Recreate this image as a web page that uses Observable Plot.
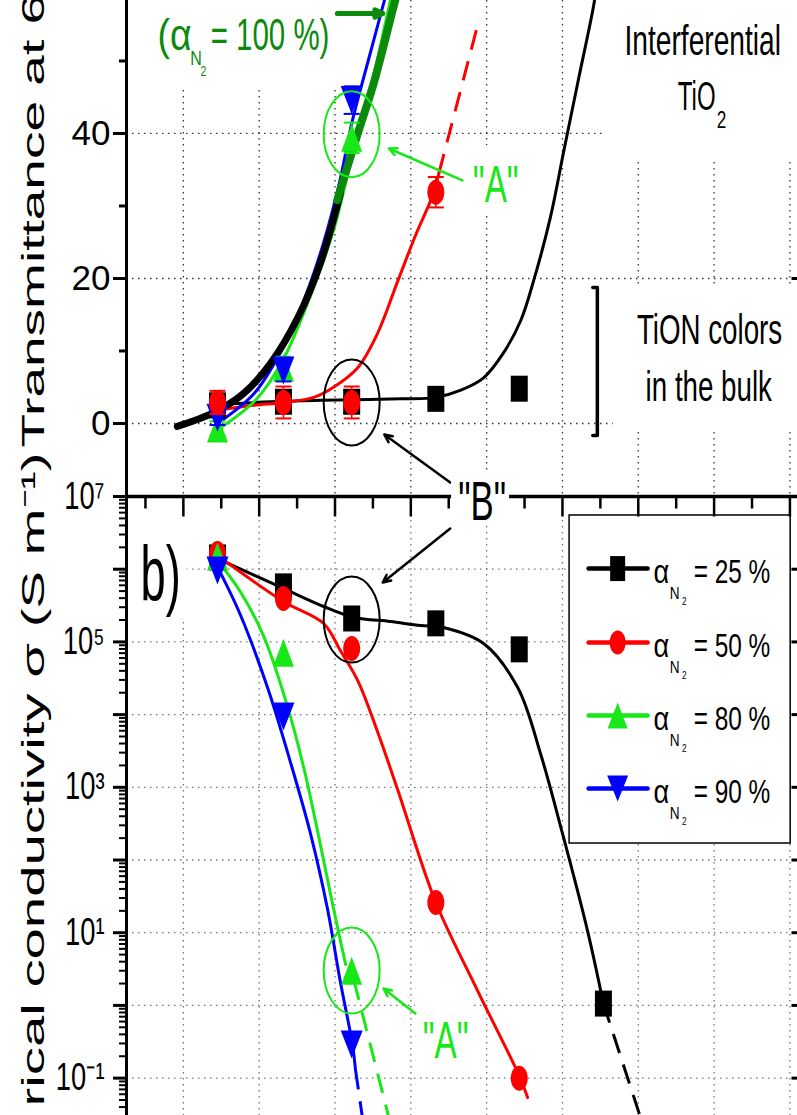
<!DOCTYPE html>
<html><head><meta charset="utf-8">
<script src="https://cdn.jsdelivr.net/npm/d3@7"></script>
<script src="https://cdn.jsdelivr.net/npm/@observablehq/plot@0.6"></script>
<style>
html,body{margin:0;padding:0;background:#fff;overflow:hidden}
#chart{position:relative;width:797px;height:1115px;overflow:hidden;background:#fff}
#chart svg{position:absolute;left:0}
</style></head>
<body><div id="chart"></div>
<script>
// ---------------- DATA ----------------
const xSamples = [1.45, 2.32, 3.22, 4.33, 5.43, 6.54];

// (a) transmittance (%)
const transBlack = [2.5, 3.0, 3.0, 3.4, 4.8];
const transBlackErr = [1.0, 1.5, 1.5, 1.0, 0.6];
const transRed = [2.9, 2.9, 2.9, 31.9];
const transRedErr = [1.6, 2.2, 2.2, 2.1];
const transGreen = [-0.7, 7.7, 39.4];
const transGreenErr = [1.0, 1.5, 2.1];
const transBlue = [0.8, 7.3, 44.6];
const transBlueErr = [1.0, 1.5, 1.9];

// (b) electrical conductivity (S/m)
const condBlack = [1.45e6, 5.8e5, 2.1e5, 1.8e5, 7.9e4, 1.06];
const condRed = [1.64e6, 3.95e5, 8.1e4, 26, 0.1];
const condGreen = [1.5e6, 7.1e4, 3.0];
const condBlue = [9.6e5, 9.4e3, 0.29];

// guide curves [x, y]
const fitTrans100Black = [[0.92,-0.4],[1.40,1.5],[1.79,4.1],[2.15,8.3],[2.51,14.6],[2.81,22.2],[3.07,31.7]];
const fitTrans100Green = [[3.03,30.8],[3.30,40.0],[3.51,46.9],[3.76,57.0],[3.81,59.0]];
const fitTransBlue = [[1.45,0.0],[1.93,4.1],[2.28,9.8],[2.59,17.0],[2.84,24.6],[3.05,32.8],[3.23,41.8],[3.44,50.1],[3.65,58.3],[3.70,60.3]];
const fitTransGreen = [[1.49,-0.6],[1.95,3.2],[2.31,8.7],[2.68,17.7],[2.98,26.6],[3.18,34.9],[3.31,40.0],[3.51,48.0],[3.73,58.3],[3.78,60.3]];
const fitTransRed = [[1.45,1.8],[1.93,2.5],[2.32,2.9],[2.72,3.6],[2.98,5.0],[3.30,7.7],[3.56,12.4],[3.83,19.7],[4.06,25.9],[4.29,31.5],[4.37,34.5]];
const fitTransRedDash = [[4.37,34.5],[4.87,54.5]];
const fitTransBlack = [[1.45,2.6],[2.15,3.0],[2.81,3.2],[3.87,3.4],[4.33,3.6],[4.66,4.6],[4.96,6.3],[5.22,9.7],[5.45,14.2],[5.62,19.7],[5.84,28.4],[6.02,37.7],[6.20,46.9],[6.40,57.0],[6.44,59.5]];

const fitCondBlack = [[1.45,1.40e6],[2.32,5.43e5],[2.85,3.07e5],[3.25,2.17e5],[3.73,1.91e5],[4.13,1.68e5],[4.43,1.58e5],[4.96,9.5e4],[5.41,2.36e4],[5.71,2.92e3],[6.00,232],[6.33,10.7],[6.54,1.06]];
const fitCondBlackDash = [[6.54,1.06],[7.03,0.0287]];
const fitCondRed = [[1.45,1.54e6],[2.32,3.6e5],[2.85,1.79e5],[3.07,7.62e4],[3.30,2.94e4],[3.56,5.86e3],[3.83,904],[4.33,26],[4.88,1.6],[5.44,0.102],[5.54,0.054]];
const fitCondGreen = [[1.42,1.45e6],[1.75,4.93e5],[2.06,1.19e5],[2.37,1.33e4],[2.59,1.82e3],[2.81,158],[2.98,21.5],[3.14,3.66]];
const fitCondGreenDash = [[3.25,2.2],[3.71,0.0287]];
const fitCondBlue = [[1.42,1.24e6],[1.75,2.38e5],[2.11,2.36e4],[2.41,2.26e3],[2.68,224],[2.90,21.5],[3.07,2.13],[3.23,0.29],[3.27,0.131]];
const fitCondBlueDash = [[3.27,0.131],[3.36,0.0296]];

// ticks
const xMajorTicks = [1,2,3,4,5,6,7,8,9];
const xMinorTicks = [0.5,1.5,2.5,3.5,4.5,5.5,6.5,7.5,8.5];
const transTicks = [0, 20, 40];
const transMinorTicks = [10, 30, 50];
const condTicks = [1e7, 1e5, 1e3, 1e1, 1e-1];
const condTickLabels = ["10⁷", "10⁵", "10³", "10¹", "10⁻¹"];
const condDecades = [1e6, 1e4, 1e2, 1e0];
const condGrid = [1e6, 1e5, 1e4, 1e3, 1e2, 1e1, 1e0, 1e-1];
const condMinorTicks = [];
for (let e = -2; e <= 6; e++) for (let m = 2; m <= 9; m++) { const v = m * 10 ** e; if (v > 0.0306 && v < 1e7) condMinorTicks.push(v); }

// legend
const legendLabels = ["= 25 %", "= 50 %", "= 80 %", "= 90 %"];
const yLabelTop = "Transmittance at 6";
const yLabelBottom = "rical conductivity σ (S m⁻¹)";

// ---------------- STYLE ----------------
const FONT = "'Liberation Sans', Arial, Helvetica, sans-serif";
const DARK = "#0b8a0b", GREEN = "#18e818", RED = "#ff0000", BLUE = "#0000ff", BLACK = "#000000";
const squeeze = new Map([
  ["(α",0.85],["N",0.8],["2",0.75],["= 100 %)",0.67],["Interferential",0.67],["TiO",0.6],
  ["TiON colors",0.66],["in the bulk",0.66],['"A"',0.64],['"B"',0.62],["b)",0.58],["α",0.8],
  ["= 25 %",0.74],["= 50 %",0.74],["= 80 %",0.74],["= 90 %",0.74],
  ["10⁷",0.72],["10⁵",0.72],["10³",0.72],["10¹",0.72],["10⁻¹",0.72],
  [yLabelTop,1.72],[yLabelBottom,1.76]
]);

// symbols
const rectSym = (w, h) => ({draw(c){c.moveTo(-w/2,-h/2);c.lineTo(w/2,-h/2);c.lineTo(w/2,h/2);c.lineTo(-w/2,h/2);c.closePath();}});
const ellSym = (rx, ry) => ({draw(c){const k=0.5523,kx=rx*k,ky=ry*k;c.moveTo(rx,0);c.bezierCurveTo(rx,ky,kx,ry,0,ry);c.bezierCurveTo(-kx,ry,-rx,ky,-rx,0);c.bezierCurveTo(-rx,-ky,-kx,-ry,0,-ry);c.bezierCurveTo(kx,-ry,rx,-ky,rx,0);c.closePath();}});
const triUp = (w, h) => ({draw(c){c.moveTo(0,-h/2);c.lineTo(w/2,h/2);c.lineTo(-w/2,h/2);c.closePath();}});
const triDown = (w, h) => ({draw(c){c.moveTo(0,h/2);c.lineTo(w/2,-h/2);c.lineTo(-w/2,-h/2);c.closePath();}});
const hSeg = (a, b) => ({draw(c){c.moveTo(a,0);c.lineTo(b,0);}});
const vSeg = (a, b) => ({draw(c){c.moveTo(0,a);c.lineTo(0,b);}});
const SQ = rectSym(17,26), CI = ellSym(8.5,12.5), TU = triUp(21,28), TD = triDown(22,28);

const pts = a => a.map(([x, y]) => ({x, y}));
const rows = (ys, es) => ys.map((y, i) => ({x: xSamples[i], y, e: es ? es[i] : 0}));

function markers(data, color, sym, withErr) {
  const out = [];
  if (withErr) {
    out.push(Plot.ruleX(data, {x:"x", y1:d=>d.y-d.e, y2:d=>d.y+d.e, stroke:color, strokeWidth:1.6}));
    out.push(Plot.dot(data, {x:"x", y:d=>d.y+d.e, symbol:hSeg(-8,8), fill:"none", stroke:color, strokeWidth:2}));
    out.push(Plot.dot(data, {x:"x", y:d=>d.y-d.e, symbol:hSeg(-8,8), fill:"none", stroke:color, strokeWidth:2}));
  }
  out.push(Plot.dot(data, {x:"x", y:"y", symbol:sym, fill:color, stroke:"none"}));
  return out;
}
const curve = (a, color, w, dash) => Plot.line(pts(a), {x:"x", y:"y", stroke:color, strokeWidth:w,
  curve: dash ? "linear" : "catmull-rom", strokeDasharray: dash || null, strokeLinecap: dash ? "butt" : "round"});
const texts = (data, fill, anchor) => Plot.text(data, {x:"x", y:"y", text:"t", fontSize:d=>d.fs,
  fill, textAnchor:anchor, lineAnchor:"bottom", fontFamily:FONT});

// annotation placements (data coordinates)
const topBoxes = [
  {x1:0.25, x2:3.1, y1:46.2, y2:58.4},
  {x1:6.54, x2:9.1, y1:36.3, y2:58.4},
  {x1:6.67, x2:9.1, y1:-1.24, y2:18.76},
  {x1:4.76, x2:5.47, y1:28.7, y2:38.3}
];
const bracket = [[6.40,18.76],[6.46,18.76],[6.46,-1.66],[6.40,-1.66]];
const topEllipses = [{x:3.22, y:39.9, c:GREEN}, {x:3.22, y:2.9, c:BLACK}];
const topArrows = [
  {x1:3.03, y1:56.55, x2:3.63, y2:56.55, c:DARK, w:5},
  {x1:4.68, y1:33.52, x2:3.71, y2:37.93, c:GREEN, w:2.5},
  {x1:4.52, y1:-8.14, x2:3.65, y2:-1.52, c:BLACK, w:2.5}
];
const topDarkText = [
  {x:0.66, y:51.45, t:"(α", fs:44},
  {x:1.09, y:49.38, t:"N", fs:20},
  {x:1.225, y:47.86, t:"2", fs:14},
  {x:1.36, y:51.45, t:"= 100 %)", fs:44}
];
const topBlackMid = [
  {x:7.85, y:50.76, t:"Interferential", fs:42},
  {x:7.94, y:11.03, t:"TiON colors", fs:42},
  {x:7.93, y:3.17, t:"in the bulk", fs:42}
];
const topBlackEnd = [{x:8.02, y:43.17, t:"TiO", fs:40}];
const topBlackStart = [{x:8.034, y:40.69, t:"2", fs:23}];
const topGreenMid = [{x:5.12, y:30.48, t:'"A"', fs:52}];

const botBoxes = [
  {x1:0.25, x2:1.05, y1:1.97e5, y2:1e7},
  {x1:4.06, x2:4.815, y1:0.158, y2:1.17}
];
const bBox = [{x1:4.538, x2:5.303, y1:4.12e6, y2:2.28e7}];
const botEllipses = [{x:3.22, y:2.03e5, c:BLACK}, {x:3.22, y:3.02, c:GREEN}];
const botArrows = [
  {x1:4.52, y1:3.63e6, x2:3.63, y2:6.56e5, c:BLACK, w:2.5},
  {x1:4.06, y1:0.775, x2:3.64, y2:1.71, c:GREEN, w:2.5}
];
const legendBox = [{x1:6.094, x2:9.01, y1:168.7, y2:5.48e6}];
const legendY = [1.02e6, 9.8e4, 9.7e3, 9.6e2];
const legendColors = [BLACK, RED, GREEN, BLUE];
const legendSyms = [rectSym(15,25), ellSym(8,12), triUp(20,26), triDown(21,26)];

// ---------------- TOP PANEL ----------------
const gridT = {stroke:"#111", strokeOpacity:0.85, strokeWidth:1.3, strokeDasharray:"1.5,4.5"};
const topSvg = Plot.plot({
  width:797, height:496, marginLeft:126, marginRight:0, marginTop:0, marginBottom:0,
  style:{fontFamily:FONT, background:"white"},
  x:{domain:[0.25, 9.1], axis:null},
  y:{domain:[-10.07, 58.34], axis:null},
  color:{type:"identity"},
  marks:[
    Plot.ruleX(xMajorTicks, gridT),
    Plot.ruleY(transTicks, gridT),
    Plot.rect(topBoxes, {x1:"x1", x2:"x2", y1:"y1", y2:"y2", fill:"white"}),
    Plot.line(pts(bracket), {x:"x", y:"y", stroke:BLACK, strokeWidth:3.5, strokeLinecap:"round", strokeLinejoin:"round"}),
    curve(fitTransBlack, BLACK, 3),
    curve(fitTransRed, RED, 3),
    curve(fitTransRedDash, RED, 3, "20,12"),
    curve(fitTransGreen, GREEN, 3),
    curve(fitTransBlue, BLUE, 3),
    curve(fitTrans100Black, BLACK, 7),
    curve(fitTrans100Green, DARK, 8),
    ...markers(rows(transBlack, transBlackErr), BLACK, SQ, true),
    ...markers(rows(transGreen, transGreenErr), GREEN, TU, true),
    ...markers(rows(transBlue, transBlueErr), BLUE, TD, true),
    ...markers(rows(transRed, transRedErr), RED, CI, true),
    Plot.dot(topEllipses, {x:"x", y:"y", symbol:ellSym(28,43), fill:"none", stroke:"c", strokeWidth:2}),
    Plot.arrow(topArrows, {x1:"x1", y1:"y1", x2:"x2", y2:"y2", stroke:"c", strokeWidth:"w", headLength:13, headAngle:50}),
    texts(topDarkText, DARK, "start"),
    texts(topBlackMid, BLACK, "middle"),
    texts(topBlackEnd, BLACK, "end"),
    texts(topBlackStart, BLACK, "start"),
    texts(topGreenMid, GREEN, "middle"),
    Plot.ruleX([0.25], {stroke:BLACK, strokeWidth:3}),
    Plot.axisY(transTicks, {anchor:"left", tickSize:13, tickPadding:3, strokeWidth:3, fontSize:35, label:null, tickFormat:d=>String(d)}),
    Plot.axisY(transMinorTicks, {anchor:"left", tickSize:7, strokeWidth:3, fill:"none", label:null}),
    Plot.dot([20], {x:()=>9.1, y:d=>d, symbol:hSeg(-6,0), fill:"none", stroke:BLACK, strokeWidth:3}),
    Plot.text([yLabelTop], {text:d=>d, frameAnchor:"left", dx:-83, dy:199, rotate:-90, textAnchor:"start", lineAnchor:"bottom", fontSize:32, fontFamily:FONT})
  ]
});

// ---------------- BOTTOM PANEL ----------------
const gridB = {stroke:"#666", strokeOpacity:0.9, strokeWidth:1.3, strokeDasharray:"1.5,4.5"};
const legendRows = legendY.map((y, i) => ({y, c:legendColors[i], t:legendLabels[i]}));
const bottomSvg = Plot.plot({
  width:797, height:619, marginLeft:126, marginRight:0, marginTop:0, marginBottom:0,
  style:{fontFamily:FONT, background:"transparent", overflow:"visible"},
  x:{domain:[0.25, 9.1], axis:null},
  y:{type:"log", domain:[10 ** -1.514, 1e7], axis:null},
  color:{type:"identity"},
  marks:[
    Plot.ruleX(xMajorTicks, gridB),
    Plot.ruleY(condGrid, gridB),
    Plot.rect(botBoxes, {x1:"x1", x2:"x2", y1:"y1", y2:"y2", fill:"white"}),
    curve(fitCondBlack, BLACK, 3),
    curve(fitCondBlackDash, BLACK, 3, "20,12"),
    curve(fitCondRed, RED, 3),
    curve(fitCondGreen, GREEN, 3),
    curve(fitCondGreenDash, GREEN, 3, "20,12"),
    curve(fitCondBlue, BLUE, 3),
    curve(fitCondBlueDash, BLUE, 3, "20,12"),
    ...markers(rows(condBlack), BLACK, SQ, false),
    ...markers(rows(condRed), RED, CI, false),
    ...markers(rows(condGreen), GREEN, TU, false),
    ...markers(rows(condBlue), BLUE, TD, false),
    Plot.dot(botEllipses, {x:"x", y:"y", symbol:ellSym(28,43), fill:"none", stroke:"c", strokeWidth:2}),
    Plot.arrow(botArrows, {x1:"x1", y1:"y1", x2:"x2", y2:"y2", stroke:"c", strokeWidth:"w", headLength:13, headAngle:50}),
    // legend
    Plot.rect(legendBox, {x1:"x1", x2:"x2", y1:"y1", y2:"y2", fill:"white", stroke:BLACK, strokeWidth:1.5}),
    Plot.link(legendRows, {x1:()=>6.345, x2:()=>7.123, y1:"y", y2:"y", stroke:"c", strokeWidth:4.5, strokeLinecap:"round"}),
    ...legendRows.map((r, i) => Plot.dot([r], {x:()=>6.728, y:"y", symbol:legendSyms[i], fill:r.c, stroke:"none"})),
    Plot.text(legendRows, {x:()=>7.20, y:"y", text:()=>"α", fontSize:34, dy:14, textAnchor:"start", lineAnchor:"bottom", fontFamily:FONT}),
    Plot.text(legendRows, {x:()=>7.414, y:"y", text:()=>"N", fontSize:17, dy:30, textAnchor:"start", lineAnchor:"bottom", fontFamily:FONT}),
    Plot.text(legendRows, {x:()=>7.575, y:"y", text:()=>"2", fontSize:11, dy:36, textAnchor:"start", lineAnchor:"bottom", fontFamily:FONT}),
    Plot.text(legendRows, {x:()=>7.73, y:"y", text:"t", fontSize:33, dy:14, textAnchor:"start", lineAnchor:"bottom", fontFamily:FONT}),
    // labels
    texts([{x:0.435, y:3.7e5, t:"b)", fs:78}], BLACK, "start"),
    texts([{x:4.458, y:0.192, t:'"A"', fs:52}], GREEN, "middle"),
    // axes
    Plot.ruleX([0.25], {stroke:BLACK, strokeWidth:3}),
    Plot.ruleY([1e7], {stroke:BLACK, strokeWidth:3.5}),
    Plot.dot(xMajorTicks, {x:d=>d, y:()=>1e7, symbol:vSeg(0,20), fill:"none", stroke:BLACK, strokeWidth:2.5}),
    Plot.dot(xMinorTicks, {x:d=>d, y:()=>1e7, symbol:vSeg(0,12), fill:"none", stroke:BLACK, strokeWidth:2.5}),
    Plot.axisY(condTicks, {anchor:"left", tickSize:13, tickPadding:9, strokeWidth:3, fontSize:38, label:null,
      tickFormat:d=>condTickLabels[condTicks.indexOf(d)]}),
    Plot.axisY(condDecades, {anchor:"left", tickSize:13, strokeWidth:3, fill:"none", label:null}),
    Plot.axisY(condMinorTicks, {anchor:"left", tickSize:7, strokeWidth:2, fill:"none", label:null}),
    Plot.dot(condGrid, {x:()=>9.1, y:d=>d, symbol:hSeg(-6,0), fill:"none", stroke:BLACK, strokeWidth:3}),
    // "B" callout breaking the panel border
    Plot.rect(bBox, {x1:"x1", x2:"x2", y1:"y1", y2:"y2", fill:"white"}),
    texts([{x:4.94, y:4.68e6, t:'"B"', fs:56}], BLACK, "middle"),
    Plot.text([yLabelBottom], {text:d=>d, frameAnchor:"left", dx:-83, dy:300.5, rotate:-90, textAnchor:"start", lineAnchor:"bottom", fontSize:32, fontFamily:FONT})
  ]
});

function squeezeTexts(svg) {
  svg.querySelectorAll("text").forEach(t => {
    const s = squeeze.get(t.textContent);
    if (!s) return;
    const tr = t.getAttribute("transform") || "";
    const x = parseFloat(t.getAttribute("x")) || 0;
    t.setAttribute("transform", `${tr} translate(${x},0) scale(${s},1) translate(${-x},0)`.trim());
  });
}
squeezeTexts(topSvg); squeezeTexts(bottomSvg);
topSvg.style.top = "0px";
bottomSvg.style.top = "496px";
bottomSvg.style.overflow = "visible";
bottomSvg.style.background = "transparent";
const chartEl = document.getElementById("chart");
chartEl.appendChild(topSvg);
chartEl.appendChild(bottomSvg);
</script>
</body></html>
